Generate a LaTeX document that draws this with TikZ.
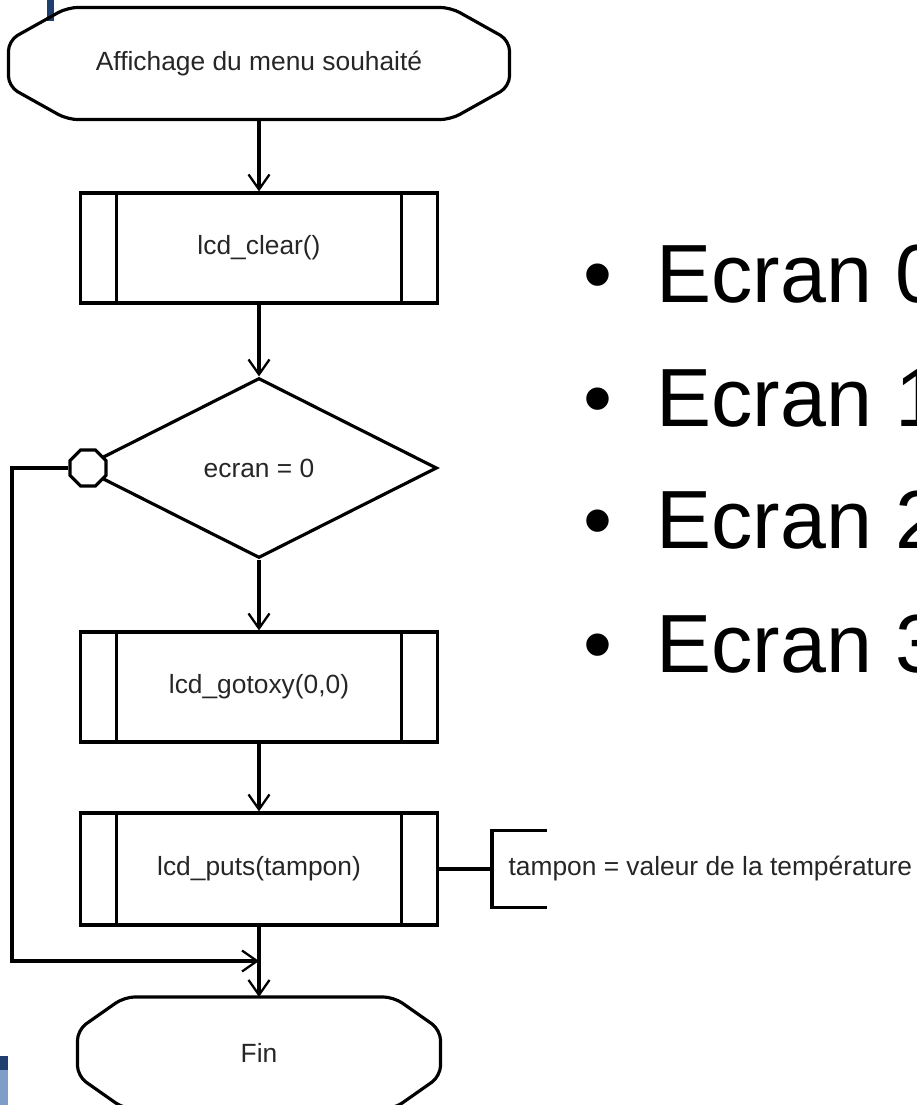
\documentclass[tikz,border=0pt]{standalone}
\usepackage{fontspec}
\setmainfont{Liberation Sans}
\usetikzlibrary{shapes.geometric, arrows.meta, positioning}

\definecolor{slideblue}{HTML}{1F406E}
\definecolor{slidelight}{HTML}{7D9EC8}
\definecolor{inkgray}{HTML}{262626}

% outline of a start/end terminal round node #1, #2 = length of the slanted cut
\newcommand{\termoutline}[2]{%
  \draw[rounded corners=6pt] ([xshift=#2]#1.north west) -- ([xshift=-#2]#1.north east)
    -- ([yshift=-0.66cm]#1.north east) -- ([yshift=0.66cm]#1.south east)
    -- ([xshift=-#2]#1.south east) -- ([xshift=#2]#1.south west)
    -- ([yshift=0.66cm]#1.south west) -- ([yshift=-0.66cm]#1.north west) -- cycle;}

\begin{document}
\begin{tikzpicture}
[x=0.02cm, y=-0.02cm, line width=1.8pt,
 >={Straight Barb[length=0.3cm, width=0.42cm, line width=1.3pt]},
 every node/.style={font=\fontsize{15}{18}\selectfont, text=inkgray},
 terminal/.style={rectangle, minimum height=2.18cm, inner sep=0pt},
 subprog/.style={rectangle, draw, minimum width=7.14cm, minimum height=2.2cm,
                 path picture={
                   \draw[line width=1.8pt]
                     ([xshift=0.72cm]path picture bounding box.north west) --
                     ([xshift=0.72cm]path picture bounding box.south west)
                     ([xshift=-0.72cm]path picture bounding box.north east) --
                     ([xshift=-0.72cm]path picture bounding box.south east);}},
 test/.style={diamond, draw, minimum width=7.12cm, minimum height=3.6cm, inner sep=0pt},
 joint/.style={regular polygon, regular polygon sides=8, draw, fill=white,
               minimum size=0.78cm, inner sep=0pt},
 note/.style={anchor=west, minimum height=1.48cm, inner xsep=0.3cm},
 bullet/.style={anchor=base west, font=\fontsize{47}{56}\selectfont, text=black}
]

    \useasboundingbox (0,0) rectangle (916,1105);
    \clip (0,0) rectangle (916,1105);

    % bits of the slide frame
    \fill[slideblue] (47,0) rectangle (54,21);
    \fill[slideblue] (0,1056) rectangle (8,1070);
    \fill[slidelight] (0,1070) rectangle (8,1105);

    \node[terminal, minimum width=9.96cm] (start) at (259,63.5) {Affichage du menu souhaité};
    \termoutline{start}{1.18cm}
    \node[subprog] (clear) at (259,248) {lcd\_clear()};
    \node[test] (test) at (259,468) {ecran = 0};
    \node[joint] (join) at (88,468) {};
    \node[subprog] (gotoxy) at (259,687) {lcd\_gotoxy(0,0)};
    \node[subprog, minimum height=2.24cm] (puts) at (259,869) {lcd\_puts(tampon)};
    \node[terminal, minimum width=7.2cm] (fin) at (259,1053) {Fin};
    \termoutline{fin}{0.94cm}
    \node[note] (note) at (492,869) {tampon = valeur de la température};

    \draw[->] (start) -- (clear);
    \draw[->] (clear) -- (test);
    \draw[->] (test) -- (gotoxy);
    \draw[->] (gotoxy) -- (puts);
    \draw[->] (puts) -- (fin);

    \coordinate (back) at (12,468);
    \coordinate (merge) at (259,961);
    \draw[->] (join) -- (back) |- (merge);

    \draw (puts) -- (note.west);
    \draw ([xshift=1.1cm]note.north west) -- (note.north west) -- (note.south west)
          -- ([xshift=1.1cm]note.south west);

    \node[bullet] (ecran0) at (576,302) {\makebox[1.46cm][l]{\textbullet}Ecran 0};
    \node[bullet] (ecran1) at (576,426) {\makebox[1.46cm][l]{\textbullet}Ecran 1};
    \node[bullet] (ecran2) at (576,548) {\makebox[1.46cm][l]{\textbullet}Ecran 2};
    \node[bullet] (ecran3) at (576,672) {\makebox[1.46cm][l]{\textbullet}Ecran 3};
\end{tikzpicture}
\end{document}
